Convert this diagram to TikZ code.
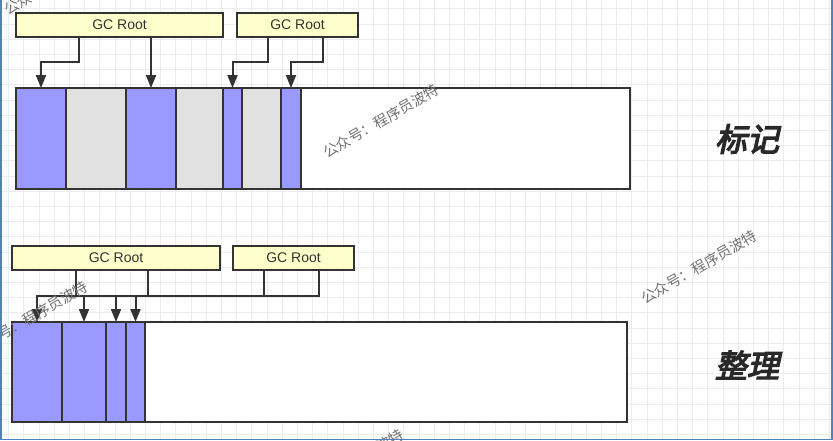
\documentclass[tikz,border=0pt]{standalone}
\usepackage{fontspec}
\setmainfont{Liberation Sans}
\newfontfamily\cjk{Noto Sans CJK SC}
\newfontfamily\cjkbi[FakeSlant=0.22,FakeBold=4]{Noto Sans CJK SC}
\usetikzlibrary{arrows.meta,calc}
\definecolor{stk}{HTML}{333333}
\definecolor{live}{HTML}{9999FF}
\definecolor{dead}{HTML}{E1E1E1}
\definecolor{rootc}{HTML}{FFFFCC}
\definecolor{gridc}{HTML}{ECECEC}
\definecolor{framec}{HTML}{4F81BD}
\definecolor{wmc}{HTML}{727272}
\begin{document}
\begin{tikzpicture}[x=1pt,y=-1pt,
  box/.style={draw=stk,line width=2pt,inner sep=0pt,outer sep=0pt,anchor=north west},
  rootbox/.style={box,fill=rootc,minimum height=24pt,text=stk,font=\fontsize{14}{14}\selectfont},
  cellbox/.style={box,minimum height=#1},
  ln/.style={draw=stk,line width=2pt,line join=miter},
  arr/.style={ln,-{Triangle[width=10pt,length=13pt]}},
  wmk/.style={text=wmc,font=\cjk\fontsize{14.5}{14.5}\selectfont,rotate=30,inner sep=0pt},
  lbl/.style={text=stk!80!black,font=\cjkbi\fontsize{32}{32}\selectfont,inner sep=0pt}]
\useasboundingbox (0,0) rectangle (833,440);
\clip (0,0) rectangle (833,440);
\fill[white] (0,0) rectangle (833,440);
% grid
\foreach \i in {0,...,54}
  \draw[gridc,line width=1pt] ({8.7+15.2*\i},0) -- ++(0,440);
\foreach \i in {0,...,29}
  \draw[gridc,line width=1pt] (0,{8.8+15.2*\i}) -- ++(833,0);
% ---------- top: marking ----------
\node[rootbox,minimum width=207pt] (r1) at (16,13) {GC Root};
\node[rootbox,minimum width=121pt] (r2) at (237,13) {GC Root};
\node[cellbox=101pt,fill=white,minimum width=614pt] (bar1) at (16,88) {};
\node[cellbox=101pt,fill=live,minimum width=50pt] (a1) at (16,88) {};
\node[cellbox=101pt,fill=dead,minimum width=60pt] (a2) at (66,88) {};
\node[cellbox=101pt,fill=live,minimum width=50pt] (a3) at (126,88) {};
\node[cellbox=101pt,fill=dead,minimum width=47pt] (a4) at (176,88) {};
\node[cellbox=101pt,fill=live,minimum width=19pt] (a5) at (223,88) {};
\node[cellbox=101pt,fill=dead,minimum width=39pt] (a6) at (242,88) {};
\node[cellbox=101pt,fill=live,minimum width=20pt] (a7) at (281,88) {};
\draw[arr] ([xshift=63pt]r1.south west) -- ++(0,25) -| (a1.north);
\draw[arr] (a3.north |- r1.south) -- (a3.north);
\draw[arr] ([xshift=31pt]r2.south west) -- ++(0,25) -| (a5.north);
\draw[arr] ([xshift=86pt]r2.south west) -- ++(0,25) -| (a7.north);
% ---------- bottom: compacting ----------
\node[rootbox,minimum width=208pt] (r3) at (12,246) {GC Root};
\node[rootbox,minimum width=121pt] (r4) at (233,246) {GC Root};
\node[cellbox=100pt,fill=white,minimum width=615pt] (bar2) at (12,322) {};
\node[cellbox=100pt,fill=live,minimum width=50pt] (b1) at (12,322) {};
\node[cellbox=100pt,fill=live,minimum width=44pt] (b2) at (62,322) {};
\node[cellbox=100pt,fill=live,minimum width=20pt] (b3) at (106,322) {};
\node[cellbox=100pt,fill=live,minimum width=19pt] (b4) at (126,322) {};
\coordinate (bus) at (0,296);
\coordinate (s1) at ([xshift=64pt]r3.south west);
\coordinate (s2) at ([xshift=136pt]r3.south west);
\coordinate (s3) at ([xshift=31pt]r4.south west);
\coordinate (s4) at ([xshift=86pt]r4.south west);
\foreach \s in {s1,s2,s3,s4} \draw[ln] (\s) -- (\s |- bus);
\draw[ln,line cap=rect] (b1.north |- bus) -- (s4 |- bus);
\foreach \c in {b1,b2,b3,b4} \draw[arr] (\c.north |- bus) -- (\c.north);
% ---------- labels ----------
\node[lbl] (mark) at (747,139) {标记};
\node[lbl] (compact) at (747,365) {整理};
% ---------- watermarks ----------
\node[wmk] (w1) at (381,121) {公众号：程序员波特};
\node[wmk] (w2) at (699,267) {公众号：程序员波特};
\node[wmk] (w3) at (30,318) {公众号：程序员波特};
\node[wmk] (w4) at (62,-22) {公众号：程序员波特};
\node[wmk] (w5) at (346,466) {公众号：程序员波特};
% ---------- frame ----------
\draw[framec,line width=1.5pt] (0.75,0) -- (0.75,439.25) -- (831.75,439.25) -- (831.75,0);
\end{tikzpicture}
\end{document}
